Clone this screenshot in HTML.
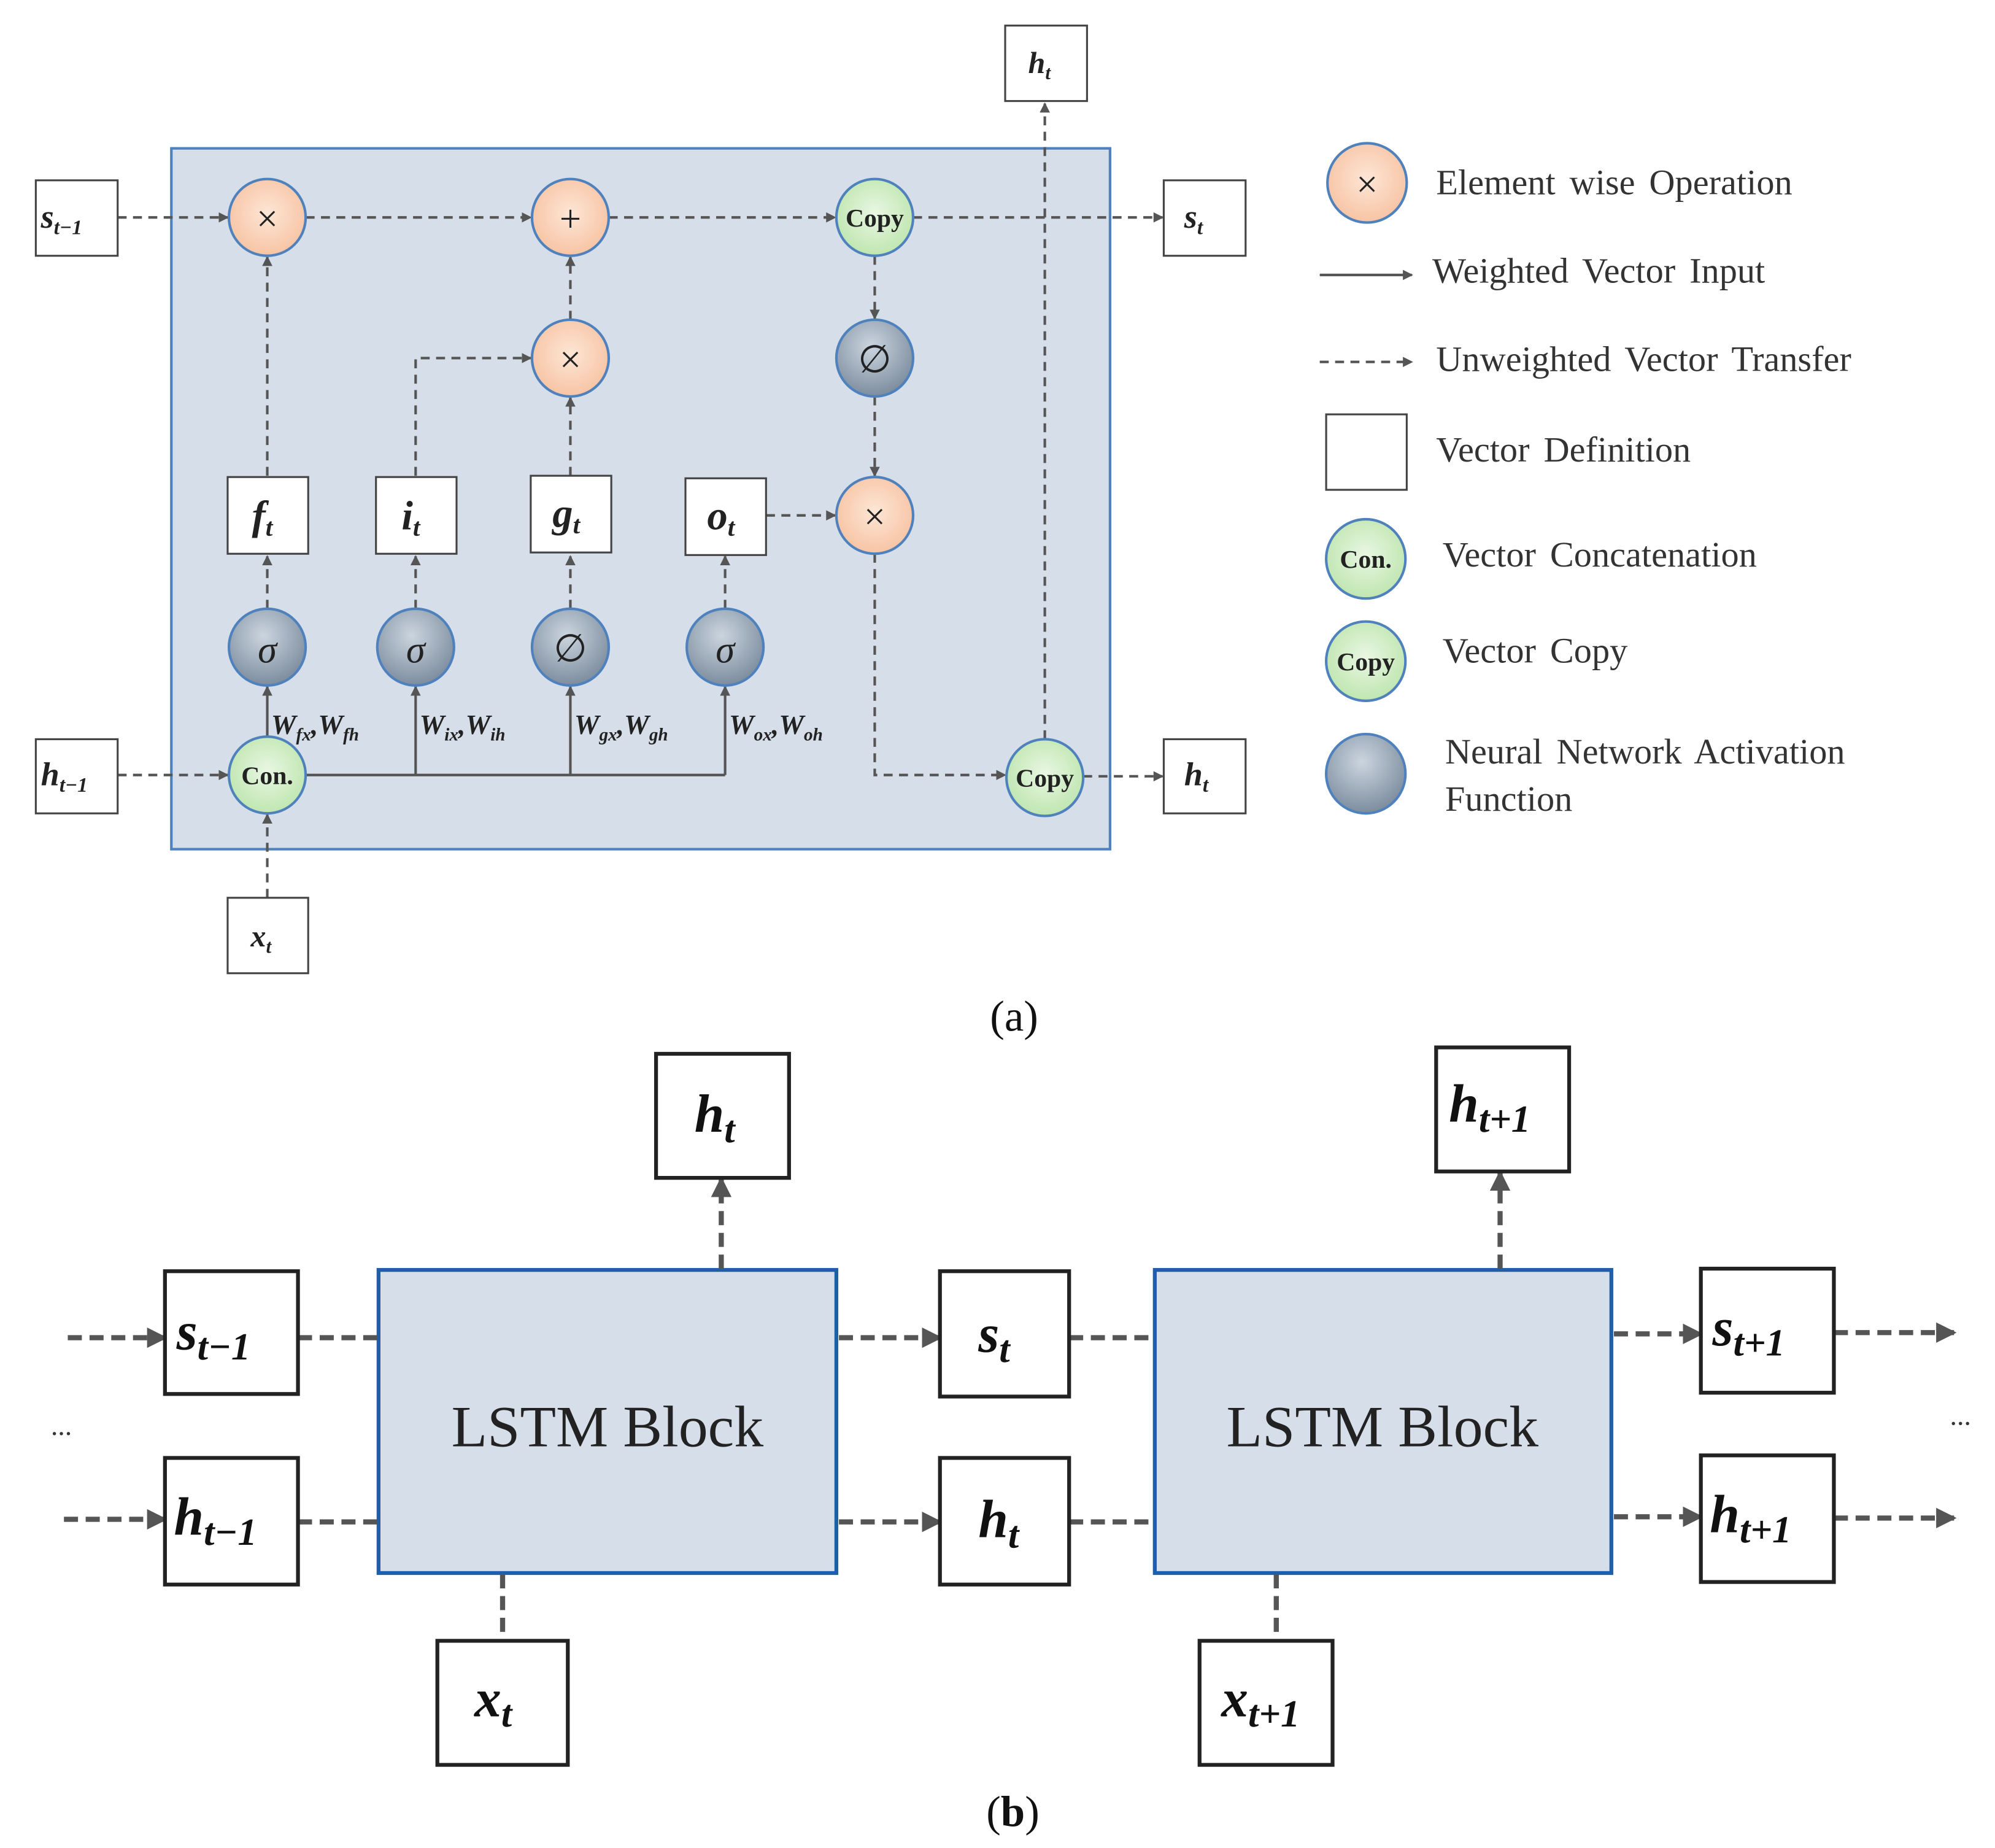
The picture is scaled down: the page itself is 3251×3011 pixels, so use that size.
<!DOCTYPE html>
<html><head><meta charset="utf-8"><style>
html,body{margin:0;padding:0;background:#fff;}
svg{display:block;}
text{font-family:"Liberation Serif",serif;}
</style></head><body>
<svg width="3251" height="3011" viewBox="0 0 1560 1445" preserveAspectRatio="none" xmlns="http://www.w3.org/2000/svg">
<defs>
<marker id="a" markerWidth="8" markerHeight="8" refX="7" refY="4" orient="auto" markerUnits="userSpaceOnUse"><path d="M0,0 L8,4 L0,8 z" fill="#555"/></marker>
<marker id="b" markerWidth="16" markerHeight="16" refX="14" refY="8" orient="auto" markerUnits="userSpaceOnUse"><path d="M0,0 L16,8 L0,16 z" fill="#555"/></marker>
<radialGradient id="or" cx="50%" cy="45%" r="55%"><stop offset="0" stop-color="#fde6d6"/><stop offset="1" stop-color="#f7c4a4"/></radialGradient>
<radialGradient id="gr" cx="50%" cy="45%" r="55%"><stop offset="0" stop-color="#e9f7e3"/><stop offset="1" stop-color="#bfe6b0"/></radialGradient>
<radialGradient id="bl" cx="45%" cy="35%" r="65%"><stop offset="0" stop-color="#cbd5df"/><stop offset="1" stop-color="#7d8d9e"/></radialGradient>
</defs>

<!-- (a) main box -->
<rect x="134" y="116" width="734" height="548" fill="#d6dfe9" stroke="#4f81bd" stroke-width="2"/>

<g stroke="#555" stroke-width="2" fill="none" stroke-dasharray="7,5">
<line x1="92" y1="170" x2="178" y2="170" marker-end="url(#a)"/>
<line x1="239" y1="170" x2="415" y2="170" marker-end="url(#a)"/>
<line x1="476" y1="170" x2="653" y2="170" marker-end="url(#a)"/>
<line x1="714" y1="170" x2="909" y2="170" marker-end="url(#a)"/>
<line x1="209" y1="372" x2="209" y2="201" marker-end="url(#a)"/>
<polyline points="325,372 325,280 415,280" marker-end="url(#a)"/>
<line x1="446" y1="372" x2="446" y2="311" marker-end="url(#a)"/>
<line x1="446" y1="250" x2="446" y2="201" marker-end="url(#a)"/>
<line x1="684" y1="200" x2="684" y2="249" marker-end="url(#a)"/>
<line x1="684" y1="310" x2="684" y2="372" marker-end="url(#a)"/>
<line x1="599" y1="403" x2="653" y2="403" marker-end="url(#a)"/>
<polyline points="684,433 684,606 786,606" marker-end="url(#a)"/>
<line x1="817" y1="578" x2="817" y2="81" marker-end="url(#a)"/>
<line x1="847" y1="607" x2="909" y2="607" marker-end="url(#a)"/>
<line x1="92" y1="606" x2="178" y2="606" marker-end="url(#a)"/>
<line x1="209" y1="702" x2="209" y2="637" marker-end="url(#a)"/>
<line x1="209" y1="476" x2="209" y2="435" marker-end="url(#a)"/>
<line x1="325" y1="476" x2="325" y2="435" marker-end="url(#a)"/>
<line x1="446" y1="476" x2="446" y2="435" marker-end="url(#a)"/>
<line x1="567" y1="476" x2="567" y2="435" marker-end="url(#a)"/>
</g>
<g stroke="#555" stroke-width="2" fill="none">
<line x1="239" y1="606" x2="567" y2="606"/>
<line x1="209" y1="576" x2="209" y2="537" marker-end="url(#a)"/>
<line x1="325" y1="606" x2="325" y2="537" marker-end="url(#a)"/>
<line x1="446" y1="606" x2="446" y2="537" marker-end="url(#a)"/>
<line x1="567" y1="606" x2="567" y2="537" marker-end="url(#a)"/>
</g>

<!-- circles -->
<g stroke="#4f81bd" stroke-width="2">
<circle cx="209" cy="170" r="30" fill="url(#or)"/>
<circle cx="446" cy="170" r="30" fill="url(#or)"/>
<circle cx="446" cy="280" r="30" fill="url(#or)"/>
<circle cx="684" cy="403" r="30" fill="url(#or)"/>
<circle cx="684" cy="170" r="30" fill="url(#gr)"/>
<circle cx="209" cy="606" r="30" fill="url(#gr)"/>
<circle cx="817" cy="608" r="30" fill="url(#gr)"/>
<circle cx="684" cy="280" r="30" fill="url(#bl)"/>
<circle cx="209" cy="506" r="30" fill="url(#bl)"/>
<circle cx="325" cy="506" r="30" fill="url(#bl)"/>
<circle cx="446" cy="506" r="30" fill="url(#bl)"/>
<circle cx="567" cy="506" r="30" fill="url(#bl)"/>
</g>
<g font-size="30" text-anchor="middle" fill="#222">
<text x="209" y="181">×</text><text x="446" y="181">+</text><text x="446" y="291">×</text><text x="684" y="414">×</text>
<text x="684" y="291">∅</text><text x="446" y="517">∅</text>
<text x="209" y="518" font-style="italic">σ</text><text x="325" y="518" font-style="italic">σ</text><text x="567" y="518" font-style="italic">σ</text>
</g>
<g font-size="20" font-weight="bold" text-anchor="middle" fill="#222">
<text x="684" y="177">Copy</text><text x="209" y="613">Con.</text><text x="817" y="615">Copy</text>
</g>

<!-- boxes (a) -->
<g fill="#fff" stroke="#444" stroke-width="1.5">
<rect x="28" y="141" width="64" height="59"/><rect x="28" y="578" width="64" height="58"/>
<rect x="178" y="702" width="63" height="59"/><rect x="786" y="20" width="64" height="59"/>
<rect x="910" y="141" width="64" height="59"/><rect x="910" y="578" width="64" height="58"/>
<rect x="178" y="373" width="63" height="60"/><rect x="294" y="373" width="63" height="60"/>
<rect x="415" y="372" width="63" height="60"/><rect x="536" y="374" width="63" height="60"/>
</g>
<g font-style="italic" font-weight="bold" fill="#222">
<text x="32" y="178" font-size="26">s<tspan font-size="16" dy="5">t−1</tspan></text>
<text x="32" y="614" font-size="26">h<tspan font-size="16" dy="5">t−1</tspan></text>
<text x="196" y="740" font-size="24">x<tspan font-size="15" dy="5">t</tspan></text>
<text x="804" y="57" font-size="24">h<tspan font-size="15" dy="5">t</tspan></text>
<text x="926" y="178" font-size="26">s<tspan font-size="16" dy="5">t</tspan></text>
<text x="926" y="614" font-size="26">h<tspan font-size="16" dy="5">t</tspan></text>
<text x="197" y="414" font-size="32">f<tspan font-size="20" dy="5">t</tspan></text>
<text x="314" y="414" font-size="32">i<tspan font-size="20" dy="5">t</tspan></text>
<text x="432" y="412" font-size="32">g<tspan font-size="20" dy="5">t</tspan></text>
<text x="553" y="414" font-size="32">o<tspan font-size="20" dy="5">t</tspan></text>
<g font-size="22">
<text x="212" y="574">W<tspan font-size="14" dy="5">fx</tspan><tspan dy="-5">,W</tspan><tspan font-size="14" dy="5">fh</tspan></text>
<text x="328" y="574">W<tspan font-size="14" dy="5">ix</tspan><tspan dy="-5">,W</tspan><tspan font-size="14" dy="5">ih</tspan></text>
<text x="449" y="574">W<tspan font-size="14" dy="5">gx</tspan><tspan dy="-5">,W</tspan><tspan font-size="14" dy="5">gh</tspan></text>
<text x="570" y="574">W<tspan font-size="14" dy="5">ox</tspan><tspan dy="-5">,W</tspan><tspan font-size="14" dy="5">oh</tspan></text>
</g>
</g>

<!-- legend -->
<circle cx="1069" cy="143" r="31" fill="url(#or)" stroke="#4f81bd" stroke-width="2"/>
<text x="1069" y="154" font-size="30" text-anchor="middle" fill="#222">×</text>
<line x1="1032" y1="215" x2="1104" y2="215" stroke="#555" stroke-width="2" marker-end="url(#a)"/>
<line x1="1032" y1="283" x2="1104" y2="283" stroke="#555" stroke-width="2" stroke-dasharray="7,5" marker-end="url(#a)"/>
<rect x="1037" y="324" width="63" height="59" fill="#fff" stroke="#444" stroke-width="1.5"/>
<circle cx="1068" cy="437" r="31" fill="url(#gr)" stroke="#4f81bd" stroke-width="2"/>
<text x="1068" y="444" font-size="20" font-weight="bold" text-anchor="middle" fill="#222">Con.</text>
<circle cx="1068" cy="517" r="31" fill="url(#gr)" stroke="#4f81bd" stroke-width="2"/>
<text x="1068" y="524" font-size="20" font-weight="bold" text-anchor="middle" fill="#222">Copy</text>
<circle cx="1068" cy="605" r="31" fill="url(#bl)" stroke="#4f81bd" stroke-width="2"/>
<g font-size="28" fill="#333" word-spacing="4">
<text x="1123" y="152">Element wise Operation</text>
<text x="1120" y="221">Weighted Vector Input</text>
<text x="1123" y="290">Unweighted Vector Transfer</text>
<text x="1123" y="361">Vector Definition</text>
<text x="1128" y="443">Vector Concatenation</text>
<text x="1128" y="518">Vector Copy</text>
<text x="1130" y="597">Neural Network Activation</text>
<text x="1130" y="634">Function</text>
</g>
<text x="793" y="806" font-size="34" text-anchor="middle" fill="#111">(a)</text>

<!-- (b) -->
<rect x="296" y="993" width="358" height="237" fill="#d6dfe9" stroke="#1f5ea8" stroke-width="3"/>
<rect x="903" y="993" width="357" height="237" fill="#d6dfe9" stroke="#1f5ea8" stroke-width="3"/>
<text x="475" y="1131" font-size="46" text-anchor="middle" fill="#222">LSTM Block</text>
<text x="1081" y="1131" font-size="46" text-anchor="middle" fill="#222">LSTM Block</text>
<g stroke="#555" stroke-width="4" fill="none" stroke-dasharray="11,6">
<line x1="53" y1="1046" x2="129" y2="1046" marker-end="url(#b)"/>
<line x1="233" y1="1046" x2="296" y2="1046"/>
<line x1="656" y1="1046" x2="735" y2="1046" marker-end="url(#b)"/>
<line x1="836" y1="1046" x2="903" y2="1046"/>
<line x1="1262" y1="1043" x2="1330" y2="1043" marker-end="url(#b)"/>
<line x1="1434" y1="1042" x2="1528" y2="1042" marker-end="url(#b)"/>
<line x1="50" y1="1188" x2="129" y2="1188" marker-end="url(#b)"/>
<line x1="233" y1="1190" x2="296" y2="1190"/>
<line x1="656" y1="1190" x2="735" y2="1190" marker-end="url(#b)"/>
<line x1="836" y1="1190" x2="903" y2="1190"/>
<line x1="1262" y1="1186" x2="1330" y2="1186" marker-end="url(#b)"/>
<line x1="1434" y1="1187" x2="1528" y2="1187" marker-end="url(#b)"/>
<line x1="564" y1="992" x2="564" y2="922" marker-end="url(#b)"/>
<line x1="1173" y1="992" x2="1173" y2="917" marker-end="url(#b)"/>
<line x1="393" y1="1231" x2="393" y2="1283"/>
<line x1="998" y1="1231" x2="998" y2="1283"/>
</g>
<g fill="#fff" stroke="#222" stroke-width="3">
<rect x="513" y="824" width="104" height="97"/><rect x="1123" y="819" width="104" height="97"/>
<rect x="129" y="994" width="104" height="96"/><rect x="129" y="1140" width="104" height="99"/>
<rect x="735" y="994" width="101" height="98"/><rect x="735" y="1140" width="101" height="99"/>
<rect x="1330" y="992" width="104" height="97"/><rect x="1330" y="1138" width="104" height="99"/>
<rect x="342" y="1283" width="102" height="97"/><rect x="938" y="1283" width="104" height="97"/>
</g>
<g font-style="italic" font-weight="bold" fill="#111">
<text x="543" y="885" font-size="42">h<tspan font-size="30" dy="8">t</tspan></text>
<text x="1133" y="877" font-size="42">h<tspan font-size="30" dy="8">t+1</tspan></text>
<text x="138" y="1055" font-size="42">s<tspan font-size="30" dy="8">t−1</tspan></text>
<text x="136" y="1200" font-size="42">h<tspan font-size="30" dy="8">t−1</tspan></text>
<text x="765" y="1057" font-size="42">s<tspan font-size="30" dy="8">t</tspan></text>
<text x="765" y="1202" font-size="42">h<tspan font-size="30" dy="8">t</tspan></text>
<text x="1339" y="1052" font-size="42">s<tspan font-size="30" dy="8">t+1</tspan></text>
<text x="1337" y="1198" font-size="42">h<tspan font-size="30" dy="8">t+1</tspan></text>
<text x="371" y="1342" font-size="42">x<tspan font-size="30" dy="8">t</tspan></text>
<text x="955" y="1342" font-size="42">x<tspan font-size="30" dy="8">t+1</tspan></text>
</g>
<text x="48" y="1122" font-size="22" text-anchor="middle" fill="#333">...</text>
<text x="1533" y="1114" font-size="22" text-anchor="middle" fill="#333">...</text>
<text x="792" y="1428" font-size="34" text-anchor="middle" fill="#111">(<tspan font-weight="bold">b</tspan>)</text>
</svg>
</body></html>
